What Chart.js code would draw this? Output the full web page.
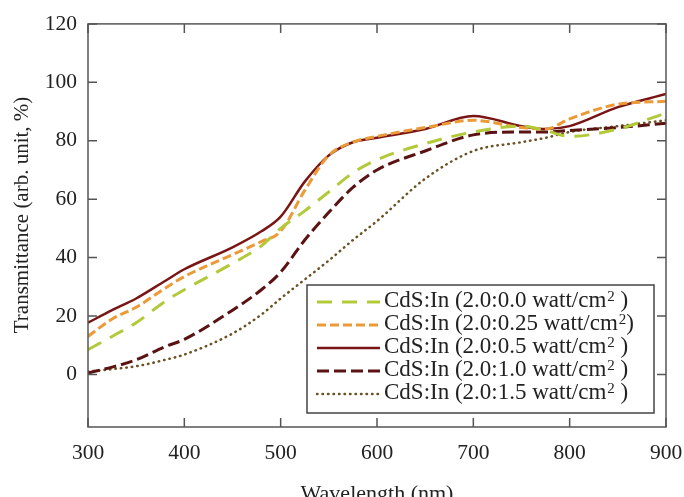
<!DOCTYPE html>
<html>
<head>
<meta charset="utf-8">
<script src="https://cdn.jsdelivr.net/npm/chart.js@4.4.1/dist/chart.umd.min.js"></script>
<style>
  html, body { margin: 0; padding: 0; background: #fff; }
</style>
</head>
<body>
<canvas id="myChart" width="684" height="497"></canvas>
<script>
// wavelength samples (nm)
var wavelengths = [300, 325, 350, 380, 400, 450, 480, 500, 525, 550, 575, 600, 650, 700, 750, 775, 800, 850, 900];

// transmittance (%)
var t00 = [8.5, 13, 17.7, 25, 29, 38, 44, 50, 56, 62.5, 69, 73.5, 79, 83, 85, 83.5, 81.5, 84, 89.5];
var t025 = [13, 19, 23, 29.5, 33.5, 41, 45.5, 49, 63, 75, 79.5, 81.5, 84.5, 87, 84.5, 84, 87.5, 92.5, 93.5];
var t05 = [17.7, 22, 26, 32, 36, 43.5, 49, 54, 66, 75, 79.5, 81, 84, 88.5, 85, 84, 85, 91.5, 96];
var t10 = [0.5, 2.5, 5, 9.5, 12, 22, 29, 35, 46, 55.5, 64, 70, 76.5, 82, 83, 83, 83.5, 84.5, 86];
var t15 = [1, 1.8, 2.8, 5, 6.8, 14, 20.5, 26, 32.5, 39, 46, 52.5, 67, 76.5, 79.5, 81, 83, 85, 87];

var seriesLabels = [
  "CdS:In (2.0:0.0 watt/cm² )",
  "CdS:In (2.0:0.25 watt/cm²)",
  "CdS:In (2.0:0.5 watt/cm² )",
  "CdS:In (2.0:1.0 watt/cm² )",
  "CdS:In (2.0:1.5 watt/cm² )"
];

var xTicks = [300, 400, 500, 600, 700, 800, 900];
var yTicks = [0, 20, 40, 60, 80, 100, 120];

function pts(ys) {
  return wavelengths.map(function(w, i) { return { x: w, y: ys[i] }; });
}

var serif = "'Liberation Serif', 'Times New Roman', serif";

// frame, inward ticks on all sides, and the boxed legend
var frameAndLegend = {
  id: "frameAndLegend",
  afterDraw: function(chart) {
    var ctx = chart.ctx, a = chart.chartArea;
    var xs = chart.scales.x, ys = chart.scales.y;
    ctx.save();
    ctx.strokeStyle = "#555";
    ctx.lineWidth = 1.5;
    ctx.strokeRect(a.left, a.top, a.right - a.left, a.bottom - a.top);
    ctx.beginPath();
    xTicks.forEach(function(v) {
      var px = xs.getPixelForValue(v);
      ctx.moveTo(px, a.top); ctx.lineTo(px, a.top + 9);
      ctx.moveTo(px, a.bottom); ctx.lineTo(px, a.bottom - 9);
    });
    yTicks.forEach(function(v) {
      var py = ys.getPixelForValue(v);
      ctx.moveTo(a.left, py); ctx.lineTo(a.left + 9, py);
      ctx.moveTo(a.right, py); ctx.lineTo(a.right - 9, py);
    });
    ctx.stroke();

    // legend box
    var bx = a.right - 359, by = a.bottom - 142, bw = 347, bh = 128;
    ctx.fillStyle = "#fff";
    ctx.fillRect(bx, by, bw, bh);
    ctx.strokeStyle = "#444";
    ctx.lineWidth = 1.5;
    ctx.strokeRect(bx, by, bw, bh);

    chart.data.datasets.forEach(function(ds, i) {
      var ry = by + 16 + i * 23;
      ctx.save();
      ctx.strokeStyle = ds.borderColor;
      ctx.lineWidth = ds.borderWidth;
      ctx.lineCap = ds.borderCapStyle || "butt";
      ctx.setLineDash(ds.borderDash || []);
      ctx.beginPath();
      ctx.moveTo(bx + 10, ry + 1);
      ctx.lineTo(bx + 73, ry + 1);
      ctx.stroke();
      ctx.restore();

      var parts = ds.label.split("²");
      var tx = bx + 77;
      ctx.fillStyle = "#222";
      ctx.textBaseline = "middle";
      ctx.textAlign = "left";
      ctx.font = "23px " + serif;
      ctx.fillText(parts[0], tx, ry);
      tx += ctx.measureText(parts[0]).width;
      ctx.font = "15px " + serif;
      ctx.fillText("2", tx + 1, ry - 4);
      tx += ctx.measureText("2").width + 1;
      ctx.font = "23px " + serif;
      ctx.fillText(parts[1], tx, ry);
    });
    ctx.restore();
  }
};

new Chart(document.getElementById("myChart"), {
  type: "line",
  data: {
    datasets: [
      {
        label: seriesLabels[0],
        data: pts(t00),
        borderColor: "#b3c93a",
        borderWidth: 3,
        borderDash: [15, 10]
      },
      {
        label: seriesLabels[1],
        data: pts(t025),
        borderColor: "#ec9a38",
        borderWidth: 3,
        borderDash: [9, 4]
      },
      {
        label: seriesLabels[2],
        data: pts(t05),
        borderColor: "#7a1515",
        borderWidth: 2.5
      },
      {
        label: seriesLabels[3],
        data: pts(t10),
        borderColor: "#5a1212",
        borderWidth: 3,
        borderDash: [12, 5]
      },
      {
        label: seriesLabels[4],
        data: pts(t15),
        borderColor: "#6b5224",
        borderWidth: 2.5,
        borderDash: [0.5, 5],
        borderCapStyle: "round"
      }
    ]
  },
  options: {
    responsive: false,
    animation: false,
    devicePixelRatio: 1,
    layout: { padding: { top: 23, right: 18, left: 0, bottom: 0 } },
    elements: {
      point: { radius: 0 },
      line: { tension: 0.4, cubicInterpolationMode: "monotone", fill: false }
    },
    plugins: {
      legend: { display: false },
      tooltip: { enabled: false }
    },
    scales: {
      x: {
        type: "linear",
        min: 300,
        max: 900,
        afterBuildTicks: function(s) { s.ticks = xTicks.map(function(v) { return { value: v }; }); },
        afterFit: function(s) { s.height = 70; s.paddingLeft = 0; s.paddingRight = 0; },
        grid: { display: false, drawTicks: false },
        border: { display: false },
        ticks: { color: "#222", padding: 13, maxRotation: 0, font: { family: serif, size: 21.5 } },
        title: {
          display: true,
          text: "Wavelength (nm)",
          color: "#222",
          font: { family: serif, size: 22, lineHeight: 0.5 },
          padding: { top: 0, bottom: -3 }
        }
      },
      y: {
        min: -18,
        max: 120,
        afterBuildTicks: function(s) { s.ticks = yTicks.map(function(v) { return { value: v }; }); },
        afterFit: function(s) { s.width = 88; },
        grid: { display: false, drawTicks: false },
        border: { display: false },
        ticks: { color: "#222", padding: 11, font: { family: serif, size: 21.5 } },
        title: {
          display: true,
          // leading spaces nudge the centred title upward like the original
          text: "    Transmittance (arb. unit, %)",
          color: "#222",
          font: { family: serif, size: 21, lineHeight: 1.2 },
          padding: { top: 10, bottom: 0 }
        }
      }
    }
  },
  plugins: [frameAndLegend]
});
</script>
</body>
</html>
